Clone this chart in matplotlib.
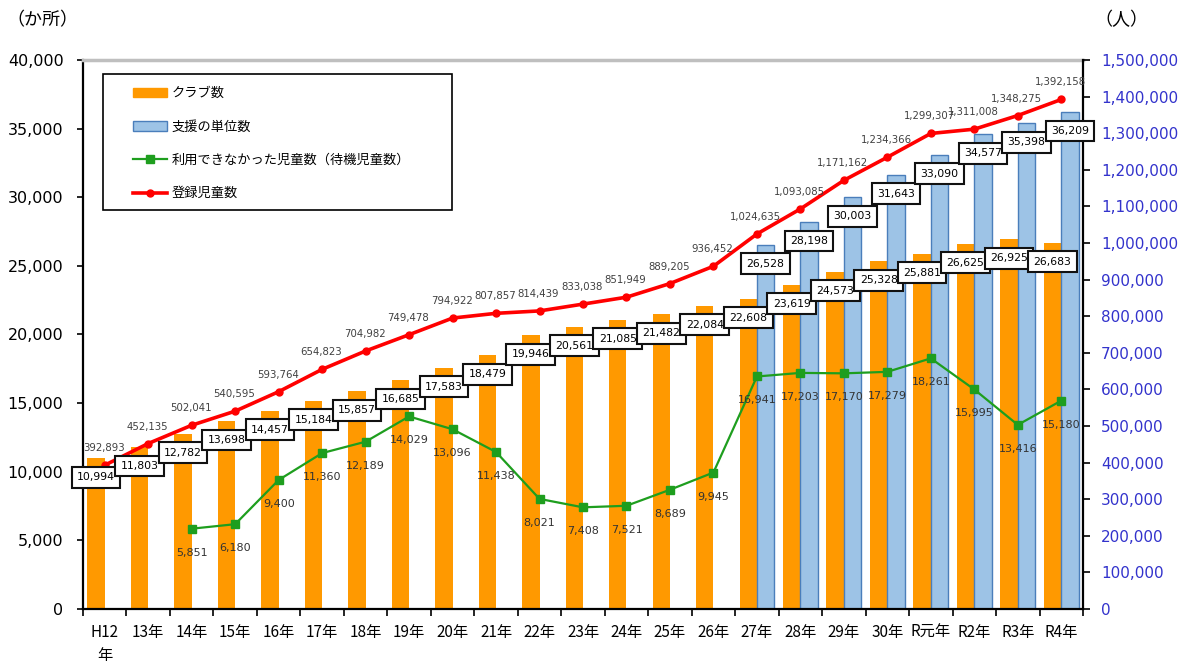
import matplotlib
matplotlib.use('Agg')
import matplotlib.pyplot as plt
import numpy as np
from matplotlib.ticker import FuncFormatter, FixedLocator
from matplotlib.patches import Patch, Rectangle
from matplotlib.lines import Line2D

plt.rcParams['font.family'] = ['DejaVu Sans', 'Noto Sans CJK JP']

years = ['H12\n年', '13年', '14年', '15年', '16年', '17年', '18年', '19年', '20年',
         '21年', '22年', '23年', '24年', '25年', '26年', '27年', '28年', '29年',
         '30年', 'R元年', 'R2年', 'R3年', 'R4年']
clubs = [10994, 11803, 12782, 13698, 14457, 15184, 15857, 16685, 17583, 18479,
         19946, 20561, 21085, 21482, 22084, 22608, 23619, 24573, 25328, 25881,
         26625, 26925, 26683]
units_years = ['27年', '28年', '29年', '30年', 'R元年', 'R2年', 'R3年', 'R4年']
units = [26528, 28198, 30003, 31643, 33090, 34577, 35398, 36209]
wait_years = ['14年', '15年', '16年', '17年', '18年', '19年', '20年', '21年', '22年',
              '23年', '24年', '25年', '26年', '27年', '28年', '29年', '30年', 'R元年',
              'R2年', 'R3年', 'R4年']
waiting = [5851, 6180, 9400, 11360, 12189, 14029, 13096, 11438, 8021, 7408, 7521,
           8689, 9945, 16941, 17203, 17170, 17279, 18261, 15995, 13416, 15180]
registered = [392893, 452135, 502041, 540595, 593764, 654823, 704982, 749478,
              794922, 807857, 814439, 833038, 851949, 889205, 936452, 1024635,
              1093085, 1171162, 1234366, 1299307, 1311008, 1348275, 1392158]
left_ticks = [0, 5000, 10000, 15000, 20000, 25000, 30000, 35000, 40000]
right_ticks = list(range(0, 1500001, 100000))

legend_labels = ['クラブ数', '支援の単位数', '利用できなかった児童数（待機児童数）', '登録児童数']

ORANGE = '#FF9900'
BLUE = '#9DC3E6'
BLUE_EDGE = '#4A7EBB'
GREEN = '#1E9E1E'
RED = '#FF0000'
JP = ['Noto Sans CJK JP', 'DejaVu Sans']

W, H = 1183, 667
fig = plt.figure(figsize=(W / 100, H / 100), dpi=100)
ax = fig.add_axes([83 / W, 1 - 609 / H, 1000 / W, 549 / H])
ax2 = ax.twinx()

x = np.arange(len(years))
xu = np.array([years.index(y) for y in units_years])
xw = np.array([years.index(y) for y in wait_years])

bw = 0.4
ax.bar(x - bw / 2, clubs, width=bw, color=ORANGE, zorder=2)
ax.bar(xu + bw / 2, units, width=bw, color=BLUE, edgecolor=BLUE_EDGE, linewidth=1.0, zorder=2)

ax.set_xlim(-0.5, len(years) - 0.5)
ax.set_ylim(0, 40000)
ax2.set_ylim(0, 1500000)

# lines on ax2 (on top of bars)
ax2.plot(xw, waiting, color=GREEN, lw=1.6, marker='s', ms=6, transform=ax.transData, zorder=3)
ax2.plot(x, registered, color=RED, lw=2.6, marker='o', ms=5, zorder=4)

# labels
for i, v in enumerate(registered):
    ax2.annotate(f'{v:,}', xy=(i, v), xytext=(-1, 17), textcoords='offset pixels',
                 ha='center', va='center', fontsize=7.3, color='#404040', zorder=6)
for i, v in zip(xw, waiting):
    ax2.annotate(f'{v:,}', xy=(i, v), xycoords=ax.transData, xytext=(0, -24),
                 textcoords='offset pixels', ha='center', va='center', fontsize=8,
                 color='#333333', zorder=6)
box = dict(boxstyle='square,pad=0.5', fc='white', ec='#111111', lw=1.5)
for i, v in enumerate(clubs):
    ax2.annotate(f'{v:,}', xy=(i - bw / 2, v), xycoords=ax.transData, xytext=(0, -19),
                 textcoords='offset pixels', ha='center', va='center', fontsize=7.8,
                 color='black', bbox=box, zorder=7)
for i, v in zip(xu, units):
    ax2.annotate(f'{v:,}', xy=(i + bw / 2, v), xycoords=ax.transData, xytext=(0, -19),
                 textcoords='offset pixels', ha='center', va='center', fontsize=7.8,
                 color='black', bbox=box, zorder=7)

# axes styling
fmt = FuncFormatter(lambda v, p: f'{int(v):,}')
ax.set_yticks(left_ticks)
ax.yaxis.set_major_formatter(fmt)
ax2.set_yticks(right_ticks)
ax2.yaxis.set_major_formatter(fmt)
ax.tick_params(axis='y', direction='out', length=4, width=1.2, pad=10, labelsize=11.5, colors='black')
ax2.tick_params(axis='y', direction='out', length=5, width=1.2, pad=8, labelsize=11, labelcolor='#3333CC')

ax.xaxis.set_major_locator(FixedLocator(np.arange(-0.5, len(years), 1)))
ax.xaxis.set_major_formatter(FuncFormatter(lambda v, p: ''))
ax.xaxis.set_minor_locator(FixedLocator(x))
ax.set_xticklabels(years, minor=True)
ax.tick_params(axis='x', which='major', direction='out', length=5, width=1.2)
ax.tick_params(axis='x', which='minor', length=0, pad=11, labelsize=11)
for lbl in ax.get_xticklabels(minor=True):
    lbl.set_family(JP)
    lbl.set_linespacing(1.45)
    lbl.set_verticalalignment('top')

for s in ['left', 'bottom']:
    ax.spines[s].set_color('black')
    ax.spines[s].set_linewidth(1.6)
ax.spines['right'].set_visible(False)
ax.spines['top'].set_color('#BFBFBF')
ax.spines['top'].set_linewidth(2.5)
for s in ['left', 'bottom', 'top']:
    ax2.spines[s].set_visible(False)
ax2.spines['right'].set_color('black')
ax2.spines['right'].set_linewidth(1.6)

# titles
fig.text(6 / W, 1 - 20 / H, '（か所）', family=JP, fontsize=13, ha='left', va='center')
fig.text(1094 / W, 1 - 20 / H, '（人）', family=JP, fontsize=13, ha='left', va='center')

# legend
fig.patches.append(Rectangle((103 / W, 1 - 210 / H), 349 / W, 136 / H, transform=fig.transFigure,
                             fill=True, fc='white', ec='black', lw=1.2, zorder=8))
handles = [Patch(facecolor=ORANGE, edgecolor=ORANGE),
           Patch(facecolor=BLUE, edgecolor=BLUE_EDGE),
           Line2D([], [], color=GREEN, lw=1.6, marker='s', ms=6),
           Line2D([], [], color=RED, lw=2.6, marker='o', ms=5)]
leg = fig.legend(handles, legend_labels, loc='upper left', bbox_to_anchor=(133 / W, 1 - 87 / H),
                 frameon=False, borderpad=0, borderaxespad=0, handlelength=2.6,
                 handleheight=0.75, handletextpad=0.35, labelspacing=1.55,
                 prop={'family': JP, 'size': 9.5})
leg.set_zorder(9)

fig.savefig('out.png', dpi=100)
